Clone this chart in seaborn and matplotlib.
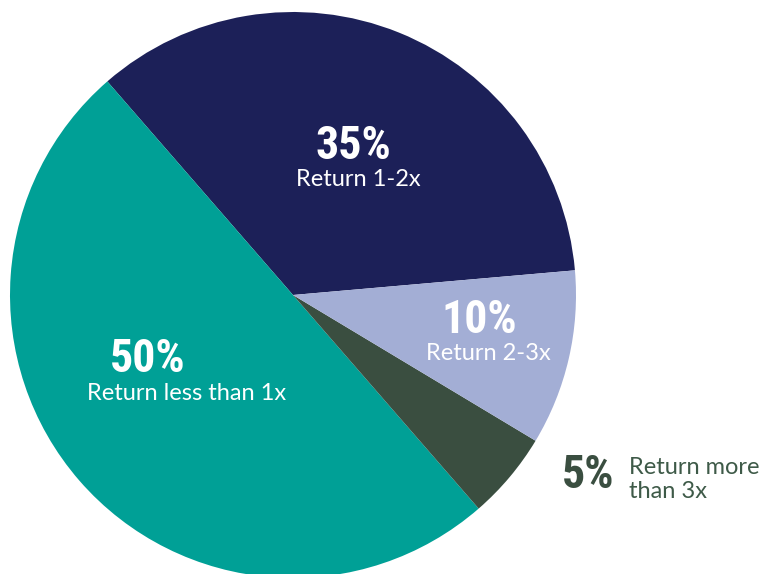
import matplotlib
matplotlib.use("Agg")
import matplotlib.pyplot as plt
from matplotlib import font_manager
import seaborn as sns

# Data
categories = ["Return 1-2x", "Return less than 1x", "Return more than 3x", "Return 2-3x"]
values = [35, 50, 5, 10]
pct_labels = ["35%", "50%", "5%", "10%"]
colors = ["#1c2058", "#00a096", "#3a4e40", "#a3aed5"]

sns.set_theme(style="white")
avail = {f.name for f in font_manager.fontManager.ttflist}
cond = next((f for f in ["Liberation Sans Narrow", "DejaVu Sans Condensed", "Roboto Condensed", "DejaVu Sans"] if f in avail), "DejaVu Sans")
body = next((f for f in ["Lato", "Open Sans", "DejaVu Sans"] if f in avail), "DejaVu Sans")

fig = plt.figure(figsize=(7.67, 5.74), dpi=100)
ax = fig.add_axes([0, 0, 1, 1])

H = 574
ax.pie(values, colors=colors, startangle=5, counterclock=True,
       center=(293, H - 295), radius=283, frame=True,
       wedgeprops=dict(linewidth=0))
ax.set_xlim(0, 767)
ax.set_ylim(0, 574)
ax.set_aspect("equal")
ax.axis("off")

big = dict(family=cond, fontweight="bold", fontsize=33, ha="center", va="center")
small = dict(family=body, fontsize=17, ha="center", va="center")

ax.text(353, H - 146, pct_labels[0], color="white", **big)
ax.text(358, H - 180, categories[0], color="white", **small)
ax.text(148, H - 359, pct_labels[1], color="white", **big)
ax.text(187, H - 394, categories[1], color="white", **small)
ax.text(479, H - 320, pct_labels[3], color="white", **big)
ax.text(488, H - 354, categories[3], color="white", **small)
ax.text(588, H - 475, pct_labels[2], color="#3a4e40", **big)
ax.text(629, H - 467, "Return more", color="#3e5a48", family=body, fontsize=17, ha="left", va="center")
ax.text(629, H - 492, "than 3x", color="#3e5a48", family=body, fontsize=17, ha="left", va="center")

fig.savefig("out.png", dpi=100)
